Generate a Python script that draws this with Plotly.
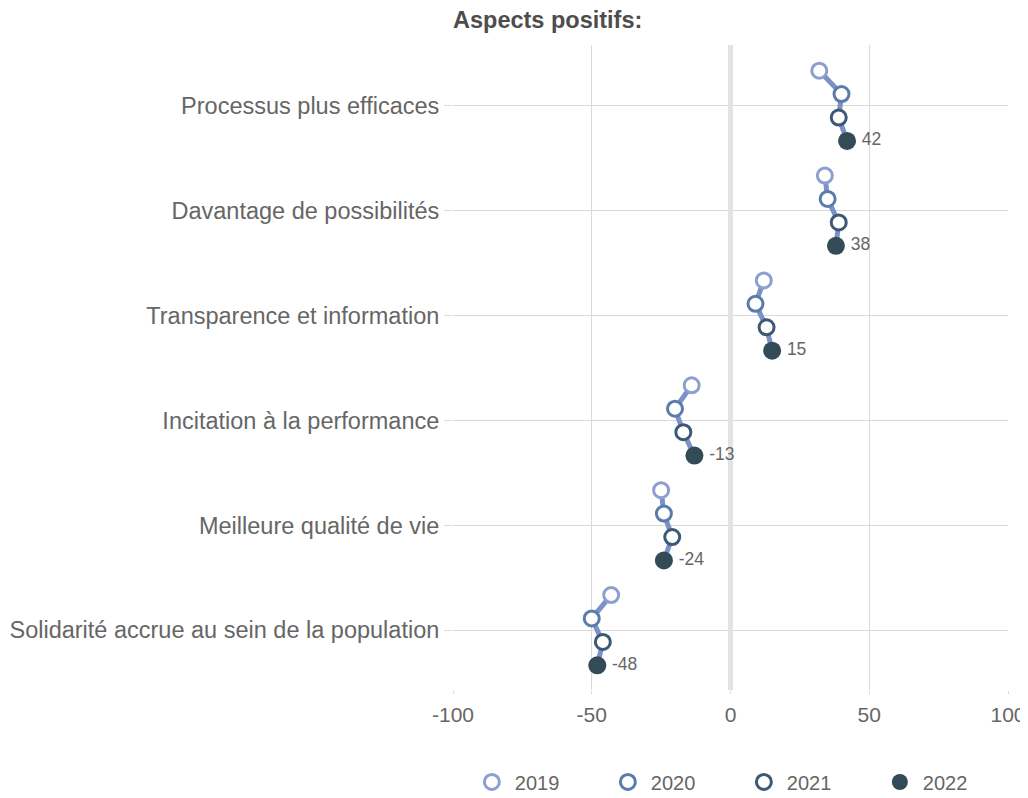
import plotly.graph_objects as go

categories = [
    "Processus plus efficaces",
    "Davantage de possibilités",
    "Transparence et information",
    "Incitation à la performance",
    "Meilleure qualité de vie",
    "Solidarité accrue au sein de la population",
]
years = ["2019", "2020", "2021", "2022"]
v2019 = [32, 34, 12, -14, -25, -43]
v2020 = [40, 35, 9, -20, -24, -50]
v2021 = [39, 39, 13, -17, -21, -46]
v2022 = [42, 38, 15, -13, -24, -48]
values = [v2019, v2020, v2021, v2022]
offsets = [-0.335, -0.112, 0.112, 0.335]

colors = ["#8c9fd0", "#5b7cab", "#3c5a76", "#334a57"]
line_color = "#7a92c6"
font_fam = "Liberation Sans, Arial, Helvetica, sans-serif"

fig = go.Figure()

for i, cat in enumerate(categories):
    xs = [values[k][i] for k in range(4)]
    ys = [i + offsets[k] for k in range(4)]
    fig.add_trace(go.Scatter(x=xs, y=ys, mode="lines",
                             line=dict(color=line_color, width=5),
                             showlegend=False, hoverinfo="skip"))

for k, yr in enumerate(years):
    ys = [i + offsets[k] for i in range(len(categories))]
    if k < 3:
        marker = dict(size=15, color="white", line=dict(color=colors[k], width=3))
    else:
        marker = dict(size=18, color=colors[k], line=dict(color=colors[k], width=0))
    fig.add_trace(go.Scatter(x=values[k], y=ys, mode="markers", name=yr,
                             marker=marker))

fig.add_trace(go.Scatter(
    x=v2022, y=[i + offsets[3] for i in range(len(categories))],
    mode="markers+text", text=[str(v) for v in v2022], textposition="middle right",
    marker=dict(size=22, opacity=0),
    textfont=dict(size=17.5, color="#666666", family=font_fam),
    showlegend=False, hoverinfo="skip"))

W, H = 1036, 820
fig.update_layout(
    width=W, height=H,
    margin=dict(l=445, r=36, t=37, b=138),
    plot_bgcolor="white", paper_bgcolor="white",
    font=dict(family=font_fam, color="#666666", size=20),
    title=dict(text="<b>Aspects positifs:</b>", x=0, xref="paper", xanchor="left",
               y=1 - 12 / H, yref="container", yanchor="middle",
               pad=dict(l=0, r=0, t=0, b=0),
               font=dict(size=23.5, color="#4d4d4d", family=font_fam)),
    xaxis=dict(range=[-100, 100], tickvals=[-100, -50, 0, 50, 100],
               ticktext=["-100", "-50", "0", "50", "100"],
               showgrid=True, gridcolor="#d9d9d9", gridwidth=1,
               zeroline=True, zerolinecolor="#e3e3e3", zerolinewidth=5,
               ticks="outside", ticklen=3, tickcolor="#d9d9d9",
               ticklabelstandoff=3,
               tickfont=dict(size=21, color="#666666"), showline=False,
               automargin=False),
    yaxis=dict(range=[5.57, -0.58], tickvals=list(range(len(categories))),
               ticktext=categories, showgrid=True, gridcolor="#d9d9d9",
               gridwidth=1, zeroline=False,
               ticks="outside", ticklen=8, tickcolor="#d9d9d9",
               tickfont=dict(size=23.5, color="#666666"), showline=False,
               automargin=False),
    legend=dict(orientation="h", x=0.0286, xanchor="left", xref="paper",
                y=-0.1426, yanchor="middle", entrywidth=85, entrywidthmode="pixels",
                itemwidth=36,
                font=dict(size=20, color="#666666")),
)

fig.write_html("out.html")
